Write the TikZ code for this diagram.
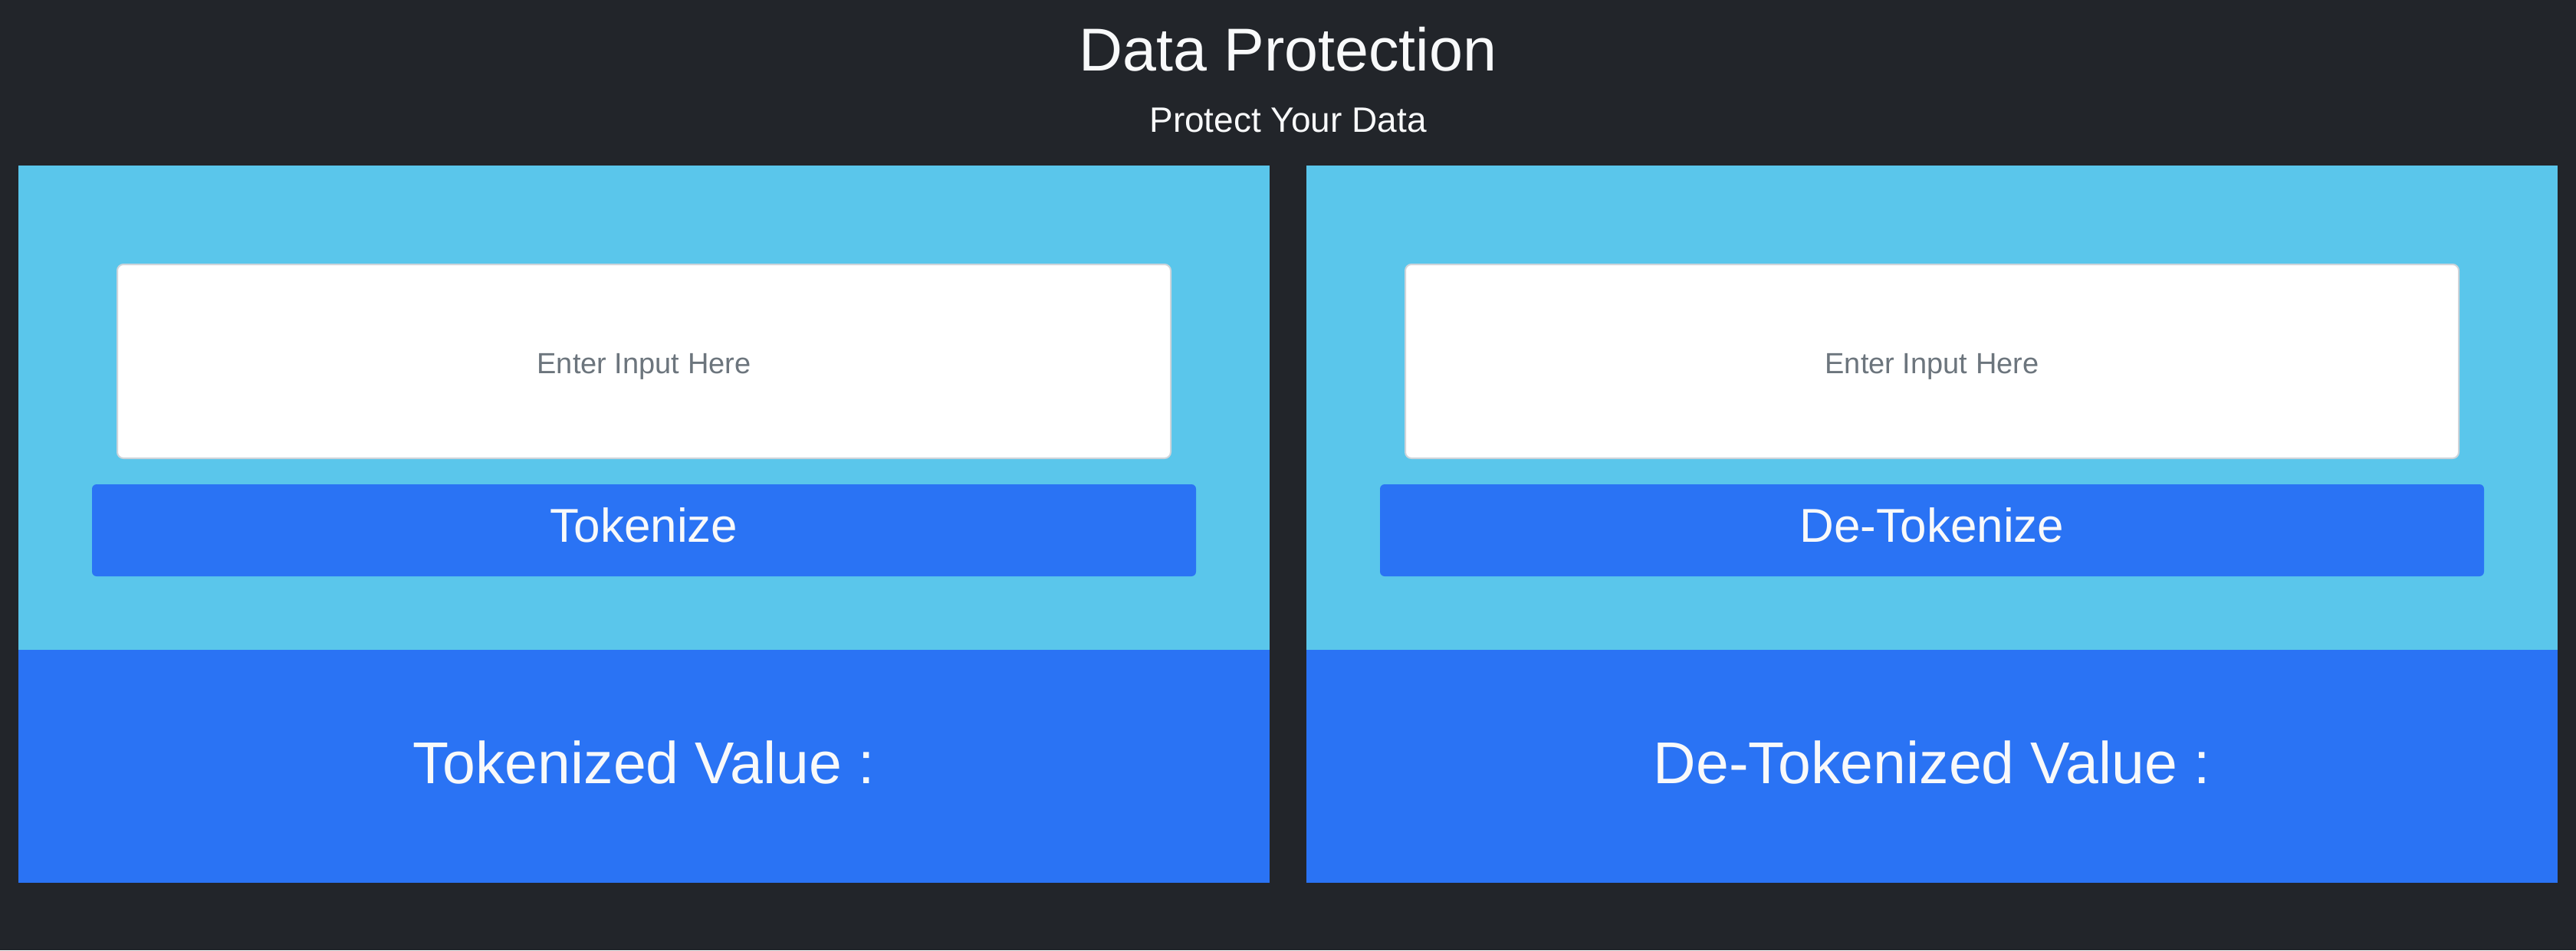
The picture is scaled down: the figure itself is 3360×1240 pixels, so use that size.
\documentclass[tikz,border=0pt]{standalone}
\usepackage{fontspec}
\setmainfont{Liberation Sans}
\definecolor{pagebg}{HTML}{22252A}
\definecolor{lightpanel}{HTML}{5AC6EB}
\definecolor{darkpanel}{HTML}{2A73F4}
\definecolor{hint}{HTML}{6C757D}
\definecolor{fieldline}{HTML}{CED4DA}
\definecolor{offwhite}{HTML}{F8F9FA}
\tikzset{
  lightbox/.style={fill=lightpanel},
  darkbox/.style={fill=darkpanel},
  field/.style={fill=white, draw=fieldline, line width=2pt, rounded corners=8pt},
  btn/.style={fill=darkpanel, rounded corners=6pt},
  txt/.style={anchor=base, inner sep=0pt, text=offwhite},
  hinttxt/.style={anchor=base, inner sep=0pt, text=hint},
}
\begin{document}
\begin{tikzpicture}[x=1pt,y=-1pt]
\fill[pagebg] (0,0) rectangle (3360,1240);
\useasboundingbox (0,0) rectangle (3360,1240);
% title
\node[txt, font=\fontsize{79}{90}\selectfont] (title) at (1680,92) {Data Protection};
\node[txt, font=\fontsize{46}{54}\selectfont] (subtitle) at (1680,172) {Protect Your Data};
% left panel
\path[lightbox] (24,216) rectangle (1656,848);
\path[darkbox] (24,848) rectangle (1656,1152);
\path[field] (153,345) rectangle (1527,598);
\path[btn] (120,632) rectangle (1560,752);
\node[hinttxt, font=\fontsize{38}{44}\selectfont] (lhint) at (840,487) {Enter Input Here};
\node[txt, font=\fontsize{62}{72}\selectfont] (lbtn) at (840,707) {Tokenize};
\node[txt, font=\fontsize{77}{88}\selectfont] (lval) at (840,1022) {Tokenized Value :};
% right panel
\path[lightbox] (1704,216) rectangle (3336,848);
\path[darkbox] (1704,848) rectangle (3336,1152);
\path[field] (1833,345) rectangle (3207,598);
\path[btn] (1800,632) rectangle (3240,752);
\node[hinttxt, font=\fontsize{38}{44}\selectfont] (rhint) at (2520,487) {Enter Input Here};
\node[txt, font=\fontsize{62}{72}\selectfont] (rbtn) at (2520,707) {De-Tokenize};
\node[txt, font=\fontsize{77}{88}\selectfont] (rval) at (2520,1022) {De-Tokenized Value :};
\end{tikzpicture}
\end{document}
